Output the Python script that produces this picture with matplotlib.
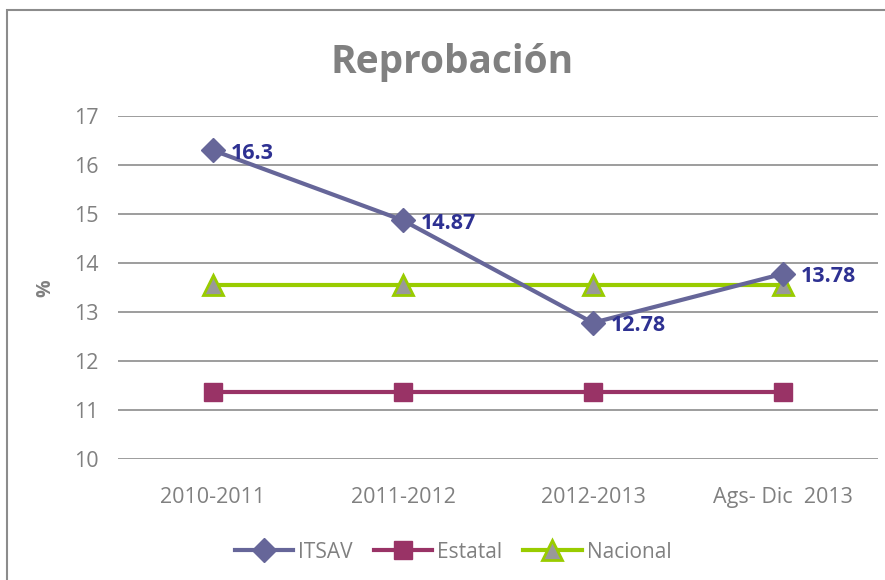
import matplotlib
matplotlib.use("Agg")
import matplotlib.pyplot as plt
from matplotlib.patches import Rectangle

# data
periodos = ["2010-2011", "2011-2012", "2012-2013", "Ags- Dic  2013"]
itsav = [16.3, 14.87, 12.78, 13.78]
estatal = [11.36, 11.36, 11.36, 11.36]
nacional = [13.56, 13.56, 13.56, 13.56]

gris = "#808080"
plt.rcParams["font.family"] = ["Open Sans", "DejaVu Sans"]

fig = plt.figure(figsize=(8.85, 5.8), dpi=100)
ax = fig.add_axes([0.1333, 0.2086, 0.8587, 0.5914])

x = range(len(periodos))
ax.plot(x, itsav, color="#666699", lw=3, marker="D", ms=12,
        mfc="#666699", mec="#666699", label="ITSAV", zorder=4)
ax.plot(x, estatal, color="#993366", lw=3, marker="s", ms=13,
        mfc="#993366", mec="#993366", label="Estatal", zorder=3)
ax.plot(x, nacional, color="#99CC00", lw=3, marker="^", ms=14,
        mfc="#999999", mec="#99CC00", mew=2, label="Nacional", zorder=3)

# etiquetas de datos
for xi, v in zip(x, itsav):
    ax.annotate(f"{v:g}", (xi, v), xytext=(13, -2), textcoords="offset points",
                ha="left", va="center", fontsize=15.5, fontweight="bold",
                color="#2E3192", zorder=5)

ax.set_xlim(-0.5, 3.5)
ax.set_ylim(10, 17)
ax.set_yticks(range(10, 18))
ax.set_xticks(list(x))
ax.set_xticklabels(periodos)
ax.grid(axis="y", color="#8c8c8c", lw=1.2)
ax.set_axisbelow(True)
for s in ax.spines.values():
    s.set_visible(False)
ax.tick_params(length=0, labelsize=15.5, labelcolor=gris)
ax.tick_params(axis="y", pad=14)
ax.tick_params(axis="x", pad=20)

fig.text(0.051, 0.503, "%", rotation=90, ha="center", va="center",
         fontsize=14, fontweight="bold", color=gris)
fig.text(0.511, 0.893, "Reprobación", ha="center", va="center",
         fontsize=28, fontweight="bold", color=gris)

leg = fig.legend(loc="center", bbox_to_anchor=(0.512, 0.048), ncol=3,
                 frameon=False, fontsize=15, handlelength=2.8,
                 columnspacing=1.0, handletextpad=0.25)
for t in leg.get_texts():
    t.set_color(gris)

# marco del grafico
fig.patches.append(Rectangle((0.008, -0.01), 1.1, 0.993, transform=fig.transFigure,
                             fill=False, ec="#8c8c8c", lw=1.5))

fig.savefig("out.png", dpi=100)
